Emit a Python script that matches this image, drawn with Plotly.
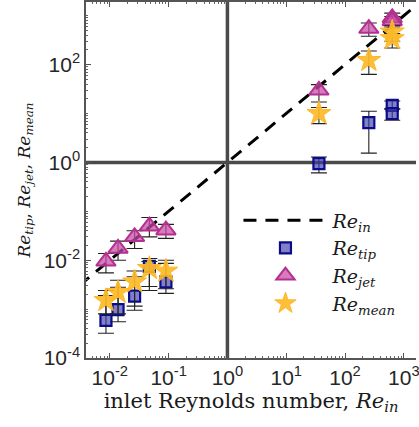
import numpy as np
import plotly.graph_objects as go

# ---- data ----
re_in = [0.0086, 0.0138, 0.0264, 0.047, 0.090, 36, 254, 635, 635]

re_tip = [0.00059, 0.00098, 0.00184, 0.0075, 0.0036, 0.94, 6.5, 14.7, 10.0]
tip_hi = [0.0019, 0.0028, 0.0046, 0.0108, 0.0086, 1.29, 11.1, 18.0, 12.5]
tip_lo = [0.00032, 0.00055, 0.00095, 0.0029, 0.0026, 0.61, 1.55, 12.3, 7.3]

re_jet = [0.0095, 0.0174, 0.030, 0.0495, 0.041, 29.8, 545, 900, 780]
jet_hi = [0.0137, 0.0245, 0.040, 0.0746, 0.054, 39, 710, 1130, 960]
jet_lo = [0.0055, 0.010, 0.0174, 0.030, 0.028, 17.2, 380, 640, 560]

re_mean = [0.0015, 0.0022, 0.0036, 0.0068, 0.006, 10, 122, 465, 340]
mean_hi = [0.0024, 0.0039, 0.006, 0.0094, 0.010, 13.3, 190, 620, 430]
mean_lo = [0.0008, 0.0008, 0.00115, 0.0024, 0.0021, 6.2, 63, 300, 218]

# Re = Re_in reference line end points
line_re = [0.003, 2000]

x_ticks = [1e-2, 1e-1, 1e0, 1e1, 1e2, 1e3]
x_ticktext = ["10<sup>-2</sup>", "10<sup>-1</sup>", "10<sup>0</sup>",
              "10<sup>1</sup>", "10<sup>2</sup>", "10<sup>3</sup>"]
y_ticks = [1e-4, 1e-2, 1e0, 1e2]
y_ticktext = ["10<sup>-4</sup>", "10<sup>-2</sup>", "10<sup>0</sup>", "10<sup>2</sup>"]

minor_vals = [k * 10.0 ** n for n in range(-5, 5) for k in range(1, 10)]

SERIF = "DejaVu Serif"
SANS = "Liberation Sans"


def err(v, hi, lo):
    v = np.array(v); hi = np.array(hi); lo = np.array(lo)
    return dict(type="data", symmetric=False, array=hi - v, arrayminus=v - lo,
                color="#222222", thickness=1.1, width=8)


fig = go.Figure()

fig.add_trace(go.Scatter(
    x=line_re, y=line_re, mode="lines", name="<i>Re</i><sub><i>in</i></sub>",
    line=dict(color="black", width=3, dash="13px,9px"),
))
fig.add_trace(go.Scatter(
    x=re_in, y=re_tip, mode="markers", name="<i>Re</i><sub><i>tip</i></sub>",
    error_y=err(re_tip, tip_hi, tip_lo),
    marker=dict(symbol="square", size=11, color="rgba(60,60,170,0.65)",
                line=dict(color="#0c0c8a", width=2.2)),
))
fig.add_trace(go.Scatter(
    x=re_in, y=re_jet, mode="markers", name="<i>Re</i><sub><i>jet</i></sub>",
    error_y=err(re_jet, jet_hi, jet_lo),
    marker=dict(symbol="triangle-up", size=17, color="rgba(200,70,165,0.72)",
                line=dict(color="#b3308f", width=2)),
))
fig.add_trace(go.Scatter(
    x=re_in, y=re_mean, mode="markers", name="<i>Re</i><sub><i>mean</i></sub>",
    error_y=err(re_mean, mean_hi, mean_lo),
    marker=dict(symbol="star", size=18, color="rgba(253,184,39,0.92)",
                line=dict(color="#fdb827", width=1)),
))

# reference lines at 1
fig.add_shape(type="line", xref="x", yref="paper", x0=1, x1=1, y0=0, y1=1,
              line=dict(color="#4a4a4a", width=3.5), layer="below")
fig.add_shape(type="line", xref="paper", yref="y", x0=0, x1=1, y0=1, y1=1,
              line=dict(color="#4a4a4a", width=3.5), layer="below")

axis_common = dict(
    type="log", showgrid=False, zeroline=False,
    showline=True, linecolor="#555555", linewidth=1.5,
    ticks="inside", ticklen=5, tickcolor="#555555", tickwidth=1,
    tickfont=dict(family=SANS, size=21, color="#262626"),
    ticklabeloverflow="allow",
    minor=dict(tickvals=minor_vals, ticks="inside", ticklen=2.5,
               tickcolor="#666666", tickwidth=1, showgrid=False),
)

fig.update_layout(
    width=419, height=427,
    margin=dict(l=86, r=0, t=2, b=69),
    paper_bgcolor="white", plot_bgcolor="white",
    showlegend=True,
    legend=dict(x=0.462, y=0.44, xanchor="left", yanchor="top",
                bgcolor="rgba(0,0,0,0)", borderwidth=0,
                font=dict(family=SERIF, size=19, color="#1a1a1a"),
                itemwidth=84, tracegroupgap=0),
    xaxis=dict(axis_common, range=[-2.405, 3.207], mirror="ticks",
               tickvals=x_ticks, ticktext=x_ticktext,
               title=dict(text="inlet Reynolds number, <i>Re</i><sub><i>in</i></sub>",
                          font=dict(family=SERIF, size=21, color="#1a1a1a"),
                          standoff=2)),
    yaxis=dict(axis_common, range=[-4, 3.28], mirror=False,
               tickvals=y_ticks, ticktext=y_ticktext,
               title=dict(text="<i>Re</i><sub><i>tip</i></sub>, <i>Re</i><sub><i>jet</i></sub>, <i>Re</i><sub><i>mean</i></sub>",
                          font=dict(family=SERIF, size=17, color="#1a1a1a"),
                          standoff=9)),
)

fig.write_html("out.html")
